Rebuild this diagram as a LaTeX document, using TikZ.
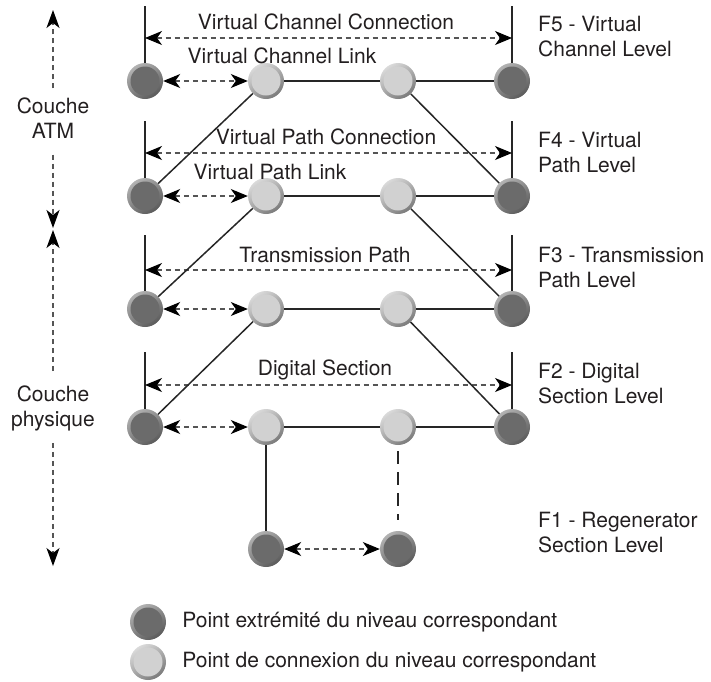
\documentclass[tikz,border=0pt]{standalone}
\usepackage{fontspec}
\setmainfont{TeX Gyre Heros}
\usetikzlibrary{arrows.meta,calc,positioning}
\definecolor{endfill}{HTML}{6B6B6B}
\definecolor{endringA}{HTML}{B2B2B2}
\definecolor{endringB}{HTML}{5A5A5A}
\definecolor{cnxfill}{HTML}{D1D1D1}
\definecolor{cnxringA}{HTML}{DADADA}
\definecolor{cnxringB}{HTML}{7A7A7A}
\definecolor{txtgray}{HTML}{231F20}
\definecolor{dashgray}{HTML}{555555}

\tikzset{
    endpt/.style={circle, minimum size=36pt, inner sep=0pt, top color=endringA, bottom color=endringB, shading angle=35,
        path picture={\fill[endfill] (path picture bounding box.center) circle (14.5pt);}},
    cnxpt/.style={circle, minimum size=36pt, inner sep=0pt, top color=cnxringA, bottom color=cnxringB, shading angle=35,
        path picture={\fill[cnxfill] (path picture bounding box.center) circle (14.5pt);}},
    wire/.style={line width=1.5pt, black!85},
    droplink/.style={line width=1.5pt, black!85, dash pattern=on 13pt off 8pt},
    dlink/.style={line width=1.1pt, dashgray, dash pattern=on 5pt off 4pt,
        {Stealth[length=17pt,width=14pt,inset=5pt,color=black,fill=black]}-{Stealth[length=17pt,width=14pt,inset=5pt,color=black,fill=black]}},
    sidearrow/.style={line width=1.1pt, dashgray, dash pattern=on 5pt off 4pt,
        -{Stealth[length=18pt,width=13pt,inset=5pt,color=black,fill=black]}},
    lbl/.style={font=\fontsize{21}{25}\selectfont, text=txtgray, inner sep=0pt},
    levellbl/.style={lbl, align=left, anchor=west}
}

\begin{document}
\begin{tikzpicture}[x=1pt, y=-1pt]
    \useasboundingbox (0,0) rectangle (711,681);

    % F5 row
    \node[endpt] (d1a) at (145,81) {};
    \node[cnxpt] (c1a) at (266,81) {};
    \node[cnxpt] (c1b) at (398,81) {};
    \node[endpt] (d1b) at (512,81) {};
    % F4 row
    \node[endpt] (d2a) at (145,196) {};
    \node[cnxpt] (c2a) at (266,196) {};
    \node[cnxpt] (c2b) at (398,196) {};
    \node[endpt] (d2b) at (512,196) {};
    % F3 row
    \node[endpt] (d3a) at (145,309) {};
    \node[cnxpt] (c3a) at (266,309) {};
    \node[cnxpt] (c3b) at (398,309) {};
    \node[endpt] (d3b) at (512,309) {};
    % F2 row
    \node[endpt] (d4a) at (145,427) {};
    \node[cnxpt] (c4a) at (266,427) {};
    \node[cnxpt] (c4b) at (398,427) {};
    \node[endpt] (d4b) at (512,427) {};
    % F1 row
    \node[endpt] (d5a) at (266,549) {};
    \node[endpt] (d5b) at (398,549) {};

    % Tops of the level bars
    \coordinate (t1a) at (145,6);   \coordinate (t1b) at (512,6);
    \coordinate (t2a) at (145,121); \coordinate (t2b) at (512,121);
    \coordinate (t3a) at (145,235); \coordinate (t3b) at (512,235);
    \coordinate (t4a) at (145,352); \coordinate (t4b) at (512,352);
    \draw[wire] (d1a) -- (t1a);  \draw[wire] (d1b) -- (t1b);
    \draw[wire] (d2a) -- (t2a);  \draw[wire] (d2b) -- (t2b);
    \draw[wire] (d3a) -- (t3a);  \draw[wire] (d3b) -- (t3b);
    \draw[wire] (d4a) -- (t4a);  \draw[wire] (d4b) -- (t4b);

    % Connections (end to end)
    \coordinate (e1a) at (145,38);  \coordinate (e1b) at (512,38);
    \coordinate (e2a) at (145,153); \coordinate (e2b) at (512,153);
    \coordinate (e3a) at (145,270); \coordinate (e3b) at (512,270);
    \coordinate (e4a) at (145,385); \coordinate (e4b) at (512,385);
    \draw[dlink] (e1a) -- (e1b);
    \draw[dlink] (e2a) -- (e2b);
    \draw[dlink] (e3a) -- (e3b);
    \draw[dlink] (e4a) -- (e4b);
    \node[lbl] (vcc) at (326,22) {Virtual Channel Connection};
    \node[lbl] (vpc) at (326,137) {Virtual Path Connection};
    \node[lbl] (tp) at (325,255) {Transmission Path};
    \node[lbl] (ds) at (325,370) {Digital Section};

    % Links
    \draw[dlink] (d1a) -- (c1a);
    \draw[dlink] (d2a) -- (c2a);
    \draw[dlink] (d3a) -- (c3a);
    \draw[dlink] (d4a) -- (c4a);
    \draw[dlink] (d5a) -- (d5b);
    \node[lbl] (vcl) at (282,56) {Virtual Channel Link};
    \node[lbl] (vpl) at (270,172) {Virtual Path Link};

    % Solid paths
    \draw[wire] (c1a) -- (c1b) -- (d1b);
    \draw[wire] (c2a) -- (c2b) -- (d2b);
    \draw[wire] (c3a) -- (c3b) -- (d3b);
    \draw[wire] (c4a) -- (c4b) -- (d4b);
    \draw[wire] (c1a) -- (d2a);  \draw[wire] (c1b) -- (d2b);
    \draw[wire] (c2a) -- (d3a);  \draw[wire] (c2b) -- (d3b);
    \draw[wire] (c3a) -- (d4a);  \draw[wire] (c3b) -- (d4b);
    \draw[wire] (c4a) -- (d5a);
    \draw[droplink, shorten <=6pt, shorten >=11pt] (c4b) -- (d5b);

    % Level labels
    \node[levellbl] (f5) at (538,37) {F5 - Virtual\\Channel Level};
    \node[levellbl] (f4) at (538,152) {F4 - Virtual\\Path Level};
    \node[levellbl] (f3) at (538,267) {F3 - Transmission\\Path Level};
    \node[levellbl] (f2) at (538,384) {F2 - Digital\\Section Level};
    \node[levellbl] (f1) at (538,533) {F1 - Regenerator\\Section Level};

    % Layers
    \node[lbl, align=center] (atm) at (53,118) {Couche\\ATM};
    \node[lbl, align=center] (phys) at (53,408) {Couche\\physique};
    \coordinate (atmtop) at (53,10);
    \coordinate (atmbot) at (53,228);
    \coordinate (physup) at (53,230);
    \coordinate (physdn) at (53,566);
    \draw[sidearrow, shorten <=9pt] (atm.north) -- (atmtop);
    \draw[sidearrow, shorten <=16pt] (atm.south) -- (atmbot);
    \draw[sidearrow, shorten <=14pt] (phys.north) -- (physup);
    \draw[sidearrow, shorten <=12pt] (phys.south) -- (physdn);

    % Legend
    \node[endpt] (leg1) at (148,622) {};
    \node[cnxpt] (leg2) at (148,662) {};
    \node[lbl, right=16pt of leg1] (legtxt1) {Point extrémité du niveau correspondant};
    \node[lbl, right=16pt of leg2] (legtxt2) {Point de connexion du niveau correspondant};
\end{tikzpicture}
\end{document}
